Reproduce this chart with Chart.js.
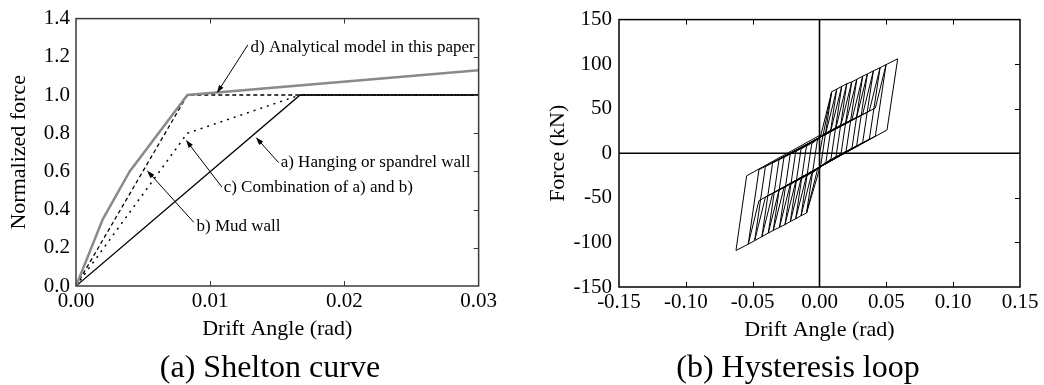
<!DOCTYPE html>
<html>
<head>
<meta charset="utf-8">
<script src="https://cdn.jsdelivr.net/npm/chart.js@4.4.0/dist/chart.umd.min.js"></script>
<style>
    body {
        margin: 0;
        background: #fff;
        width: 1044px;
        height: 385px;
        position: relative;
        overflow: hidden;
        font-family: "Liberation Serif", serif;
    }
    canvas { position: absolute; top: 0; }
    #sheltonChart { left: 0; }
    #loopChart { left: 520px; }
    .caption {
        position: absolute;
        top: 348px;
        font-size: 32px;
        line-height: 36px;
        white-space: nowrap;
        transform: translateX(-50%);
        color: #000;
    }
</style>
</head>
<body>
<canvas id="sheltonChart" width="500" height="385"></canvas>
<canvas id="loopChart" width="524" height="385"></canvas>
<div class="caption" style="left:270px">(a) Shelton curve</div>
<div class="caption" style="left:798px">(b) Hysteresis loop</div>

<script>
// ---- (a) Shelton curve ----
const driftTicksA = [0, 0.01, 0.02, 0.03];
const forceTicksA = [0, 0.2, 0.4, 0.6, 0.8, 1.0, 1.2, 1.4];

const hangingX = [0, 0.0167, 0.03];
const hangingY = [0, 1.0, 1.0];
const mudX = [0, 0.0083, 0.03];
const mudY = [0, 1.0, 1.0];
const combX = [0, 0.0083, 0.0167, 0.03];
const combY = [0, 0.8, 1.0, 1.0];
const modelX = [0, 0.002, 0.004, 0.0083, 0.03];
const modelY = [0, 0.35, 0.6, 1.0, 1.13];

const noteText = [
    "d) Analytical model in this paper",
    "a) Hanging or spandrel wall",
    "c) Combination of a) and b)",
    "b) Mud wall",
];
const noteAt = [[0.01300, 1.251], [0.01525, 0.646], [0.01100, 0.513], [0.00898, 0.313]];
const arrowFrom = [[0.0128, 1.262], [0.0151, 0.646], [0.01087, 0.518], [0.00878, 0.333]];
const arrowTo = [[0.0105, 1.010], [0.0134, 0.779], [0.00819, 0.764], [0.00529, 0.605]];

// ---- (b) Hysteresis loop ----
const driftTicksB = [-0.15, -0.10, -0.05, 0, 0.05, 0.10, 0.15];
const forceTicksB = [-150, -100, -50, 0, 50, 100, 150];

const posPeakDrift = [0.0091, 0.0129, 0.0166, 0.0204, 0.0241, 0.0279, 0.0323, 0.0358, 0.0403, 0.0453, 0.0498, 0.0585];
const posPeakForce = [69, 72, 75, 78, 80, 83, 86.5, 89, 92.5, 96, 99.5, 106];
const negPeakDrift = [-0.0097, -0.0138, -0.0178, -0.0218, -0.0258, -0.0299, -0.0346, -0.0383, -0.0431, -0.0485, -0.0533, -0.0625];
const negPeakForce = [-67, -70, -73.5, -76.5, -80, -83, -86.5, -89.5, -93.5, -98, -102, -109];
// slip lines (two points each)
const upperSlipX = [0, 0.042];
const upperSlipY = [20, 51];
const lowerSlipX = [-0.0446, 0];
const lowerSlipY = [-52.6, -18];

const serif = "'Liberation Serif', 'Times New Roman', serif";

function toPoints(xs, ys) {
    return xs.map((x, i) => ({ x: x, y: ys[i] }));
}

function onLine(xs, ys, x) {
    return ys[0] + ((ys[1] - ys[0]) * (x - xs[0])) / (xs[1] - xs[0]);
}

function buildLoop() {
    const pts = [{ x: 0, y: 0 }];
    const back = 0.008;
    for (let k = 0; k < posPeakDrift.length; k++) {
        if (k > 0) {
            const ax = posPeakDrift[k - 1] - back;
            pts.push({ x: ax, y: onLine(upperSlipX, upperSlipY, ax) });
            pts.push({ x: posPeakDrift[k - 1], y: posPeakForce[k - 1] });
        }
        pts.push({ x: posPeakDrift[k], y: posPeakForce[k] });
        const ux = posPeakDrift[k] - back;
        pts.push({ x: ux, y: onLine(lowerSlipX, lowerSlipY, ux) + 5 });
        if (k > 0) {
            const ex = negPeakDrift[k - 1] + back;
            pts.push({ x: ex, y: onLine(lowerSlipX, lowerSlipY, ex) });
            pts.push({ x: negPeakDrift[k - 1], y: negPeakForce[k - 1] });
        }
        pts.push({ x: negPeakDrift[k], y: negPeakForce[k] });
        const vx = negPeakDrift[k] + back;
        pts.push({ x: vx, y: onLine(upperSlipX, upperSlipY, vx) - 5 });
    }
    pts.push({ x: 0, y: onLine(upperSlipX, upperSlipY, 0) });
    return pts;
}

// frame, inward ticks and optional zero lines
const framePlugin = {
    id: "frame",
    beforeDatasetsDraw(chart, args, opts) {
        if (!opts.zeroLines) return;
        const { ctx, chartArea: a, scales: { x, y } } = chart;
        ctx.save();
        ctx.strokeStyle = "#000";
        ctx.lineWidth = 1.6;
        ctx.beginPath();
        const px = x.getPixelForValue(0);
        const py = y.getPixelForValue(0);
        ctx.moveTo(px, a.top);
        ctx.lineTo(px, a.bottom);
        ctx.moveTo(a.left, py);
        ctx.lineTo(a.right, py);
        ctx.stroke();
        ctx.restore();
    },
    afterDatasetsDraw(chart, args, opts) {
        const { ctx, chartArea: a, scales: { x, y } } = chart;
        const len = 5;
        ctx.save();
        ctx.strokeStyle = opts.color;
        ctx.lineWidth = 1;
        ctx.beginPath();
        x.ticks.forEach((t) => {
            if (opts.zeroLines && t.value === 0) return;
            const px = Math.round(x.getPixelForValue(t.value)) + 0.5;
            if (px <= a.left + 2 || px >= a.right - 2) return;
            ctx.moveTo(px, a.top);
            ctx.lineTo(px, a.top + len);
            ctx.moveTo(px, a.bottom);
            ctx.lineTo(px, a.bottom - len);
        });
        y.ticks.forEach((t) => {
            const py = Math.round(y.getPixelForValue(t.value)) + 0.5;
            if (py <= a.top + 2 || py >= a.bottom - 2) return;
            ctx.moveTo(a.right, py);
            ctx.lineTo(a.right - len, py);
        });
        ctx.stroke();
        ctx.lineWidth = opts.width;
        ctx.strokeRect(a.left, a.top, a.right - a.left, a.bottom - a.top);
        ctx.restore();
    },
};

// labels with arrows on the Shelton plot
const notesPlugin = {
    id: "notes",
    afterDatasetsDraw(chart) {
        const { ctx, scales: { x, y } } = chart;
        ctx.save();
        ctx.font = "17px " + serif;
        ctx.fillStyle = "#000";
        ctx.strokeStyle = "#000";
        ctx.lineWidth = 1;
        ctx.textBaseline = "middle";
        noteText.forEach((txt, i) => {
            ctx.fillText(txt, x.getPixelForValue(noteAt[i][0]), y.getPixelForValue(noteAt[i][1]));
            const x0 = x.getPixelForValue(arrowFrom[i][0]);
            const y0 = y.getPixelForValue(arrowFrom[i][1]);
            const x1 = x.getPixelForValue(arrowTo[i][0]);
            const y1 = y.getPixelForValue(arrowTo[i][1]);
            const ang = Math.atan2(y1 - y0, x1 - x0);
            ctx.beginPath();
            ctx.moveTo(x0, y0);
            ctx.lineTo(x1 - 6 * Math.cos(ang), y1 - 6 * Math.sin(ang));
            ctx.stroke();
            ctx.beginPath();
            ctx.moveTo(x1, y1);
            ctx.lineTo(x1 - 8 * Math.cos(ang) + 2.6 * Math.sin(ang), y1 - 8 * Math.sin(ang) - 2.6 * Math.cos(ang));
            ctx.lineTo(x1 - 8 * Math.cos(ang) - 2.6 * Math.sin(ang), y1 - 8 * Math.sin(ang) + 2.6 * Math.cos(ang));
            ctx.closePath();
            ctx.fill();
        });
        ctx.restore();
    },
};

function axis(min, max, digits, tickVals, title, fitSize, titlePad, tickPad, horizontal) {
    return {
        type: "linear",
        min: min,
        max: max,
        grid: { display: false, drawTicks: false },
        border: { display: false },
        afterBuildTicks: (s) => {
            s.ticks = tickVals.map((v) => ({ value: v }));
        },
        afterFit: (s) => {
            if (horizontal) s.height = fitSize;
            else s.width = fitSize;
        },
        ticks: {
            padding: tickPad,
            color: "#000",
            font: { family: serif, size: 21 },
            maxRotation: 0,
            callback: (v) => Number(v).toFixed(digits),
        },
        title: {
            display: true,
            text: title,
            color: "#000",
            font: { family: serif, size: 22 },
            padding: titlePad,
        },
    };
}

new Chart(document.getElementById("sheltonChart"), {
    type: "scatter",
    data: {
        datasets: [
            { data: toPoints(modelX, modelY), borderColor: "#8a8a8a", borderWidth: 2.5 },
            { data: toPoints(hangingX, hangingY), borderColor: "#000", borderWidth: 1.3 },
            { data: toPoints(mudX, mudY), borderColor: "#000", borderWidth: 1.3, borderDash: [4, 3] },
            { data: toPoints(combX, combY), borderColor: "#000", borderWidth: 1.5, borderDash: [2, 5] },
        ].map((d) => Object.assign(d, { showLine: true, pointRadius: 0, tension: 0, fill: false })),
    },
    options: {
        responsive: false,
        animation: false,
        devicePixelRatio: 1,
        layout: { padding: { top: 13, right: 21, bottom: 43, left: 0 } },
        plugins: {
            legend: { display: false },
            tooltip: { enabled: false },
            frame: { color: "#3a3a3a", width: 1.5, zeroLines: false },
        },
        scales: {
            x: axis(0, 0.03, 2, driftTicksA, "Drift Angle (rad)", 56, { top: 0, bottom: 0 }, 3, true),
            y: axis(0, 1.4, 1, forceTicksA, "Normalized force", 76, { top: 6, bottom: 0 }, 6, false),
        },
    },
    plugins: [framePlugin, notesPlugin],
});

new Chart(document.getElementById("loopChart"), {
    type: "scatter",
    data: {
        datasets: [
            {
                data: buildLoop(),
                showLine: true,
                pointRadius: 0,
                tension: 0,
                borderColor: "#000",
                borderWidth: 1,
                fill: false,
            },
        ],
    },
    options: {
        responsive: false,
        animation: false,
        devicePixelRatio: 1,
        layout: { padding: { top: 13, right: 24, bottom: 42, left: 0 } },
        plugins: {
            legend: { display: false },
            tooltip: { enabled: false },
            frame: { color: "#000", width: 1.5, zeroLines: true },
        },
        scales: {
            x: axis(-0.15, 0.15, 2, driftTicksB, "Drift Angle (rad)", 56, { top: 0, bottom: 0 }, 3, true),
            y: axis(-150, 150, 0, forceTicksB, "Force (kN)", 99, { top: 25, bottom: 0 }, 7, false),
        },
    },
    plugins: [framePlugin],
});
</script>
</body>
</html>
